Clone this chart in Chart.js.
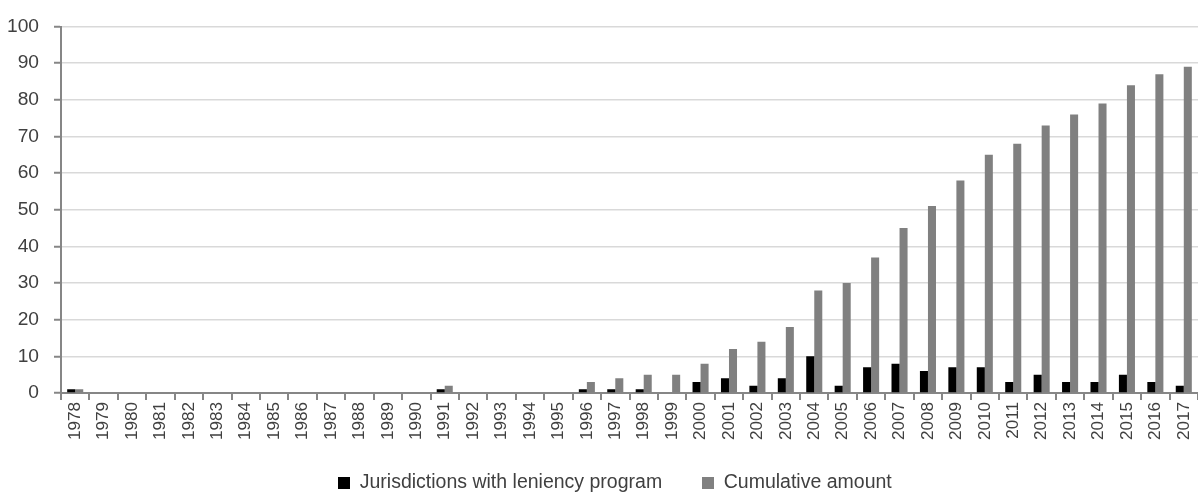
<!DOCTYPE html>
<html><head><meta charset="utf-8">
<script src="https://cdn.jsdelivr.net/npm/chart.js@4/dist/chart.umd.min.js"></script>
<style>html,body{margin:0;padding:0;background:#fff;}#wrap{width:1198px;height:496px;}</style>
</head><body><div id="wrap"><canvas id="c"></canvas></div>
<script>
const years = ['1978','1979','1980','1981','1982','1983','1984','1985','1986','1987','1988','1989','1990','1991','1992','1993','1994','1995','1996','1997','1998','1999','2000','2001','2002','2003','2004','2005','2006','2007','2008','2009','2010','2011','2012','2013','2014','2015','2016','2017'];
const jurisdictions = [1,0,0,0,0,0,0,0,0,0,0,0,0,1,0,0,0,0,1,1,1,0,3,4,2,4,10,2,7,8,6,7,7,3,5,3,3,5,3,2];
const cumulative = [1,0,0,0,0,0,0,0,0,0,0,0,0,2,0,0,0,0,3,4,5,5,8,12,14,18,28,30,37,45,51,58,65,68,73,76,79,84,87,89];
const seriesNames = ['Jurisdictions with leniency program','Cumulative amount'];

// font selection: prefer a narrow face (like the reference), else regular Liberation Sans sized by width
const mctx = document.createElement('canvas').getContext('2d');
function hasFont(f) {
  const s = 'abcdefghiJ1978mwx';
  mctx.font = '72px monospace'; const a = mctx.measureText(s).width;
  mctx.font = "72px '" + f + "', monospace"; return mctx.measureText(s).width !== a;
}
function widthAt(fam, size, text) { mctx.font = size + 'px ' + fam; return mctx.measureText(text).width; }
const narrowOK = hasFont('Liberation Sans Narrow');
const font = narrowOK ? "'Liberation Sans Narrow',sans-serif" : "'Liberation Sans',Arial,sans-serif";
function sizeFor(text, target) { return +(100 * target / widthAt(font, 100, text)).toFixed(1); }
const ySize = sizeFor('100', 32);
const xSize = sizeFor('1978', 38);
const legSize = sizeFor(seriesNames[0], 302);

// legend geometry (targets from the reference)
const boxW = 12, box1X = 338, box2X = 702, legendCenterY = 483, chartBottom = 393;
const item1 = boxW + legSize / 2 + widthAt(font, legSize, seriesNames[0]);
const item2 = boxW + legSize / 2 + widthAt(font, legSize, seriesNames[1]);
const legPad = box2X - box1X - item1;
const legendShift = box1X - (1198 - item1 - item2 - legPad) / 2;
const legendBottom = legendCenterY + legSize / 2 + 10;
const padBottom = 496 - legendBottom;
const legendHeight = legSize + legPad + 10;
const xHeight = legendBottom - legendHeight - chartBottom;
const textColor = '#404040';

const adjustBoxes = {
  id: 'adjustBoxes',
  afterLayout(chart) {
    if (chart.legend) { chart.legend.left += legendShift; chart.legend.right += legendShift; }
    const xs = chart.scales.x;
    if (xs) { xs.bottom = xs.top + 60; xs.height = 60; }
  }
};

new Chart(document.getElementById('c'), {
  type: 'bar',
  data: {
    labels: years,
    datasets: [
      {label: seriesNames[0], data: jurisdictions, backgroundColor: '#000000', barPercentage: 1, categoryPercentage: 0.565},
      {label: seriesNames[1], data: cumulative, backgroundColor: '#808080', barPercentage: 1, categoryPercentage: 0.565}
    ]
  },
  plugins: [adjustBoxes],
  options: {
    responsive: true, maintainAspectRatio: false, animation: false,
    layout: {padding: {left: 0, right: 0, top: 24, bottom: padBottom}},
    plugins: {
      tooltip: {enabled: false},
      legend: {position: 'bottom', labels: {boxWidth: boxW, boxHeight: 12, padding: legPad, color: textColor, font: {family: font, size: legSize}}}
    },
    scales: {
      x: {
        afterFit: (s) => { s.height = xHeight; s.paddingRight = 0; s.paddingLeft = 0; },
        grid: {display: true, drawOnChartArea: false, drawTicks: true, tickLength: 7, color: '#868686', lineWidth: 2, offset: true},
        border: {color: '#868686', width: 2},
        ticks: {minRotation: 90, maxRotation: 90, autoSkip: false, padding: 2, color: textColor, font: {family: font, size: xSize}}
      },
      y: {
        min: 0, max: 100,
        afterFit: (s) => { s.width = 61; },
        ticks: {stepSize: 10, color: textColor, padding: 15, font: {family: font, size: ySize}},
        grid: {color: '#d9d9d9', lineWidth: 1.5, tickLength: 7, tickColor: '#868686', tickWidth: 2},
        border: {color: '#868686', width: 2}
      }
    }
  }
});
</script></body></html>
